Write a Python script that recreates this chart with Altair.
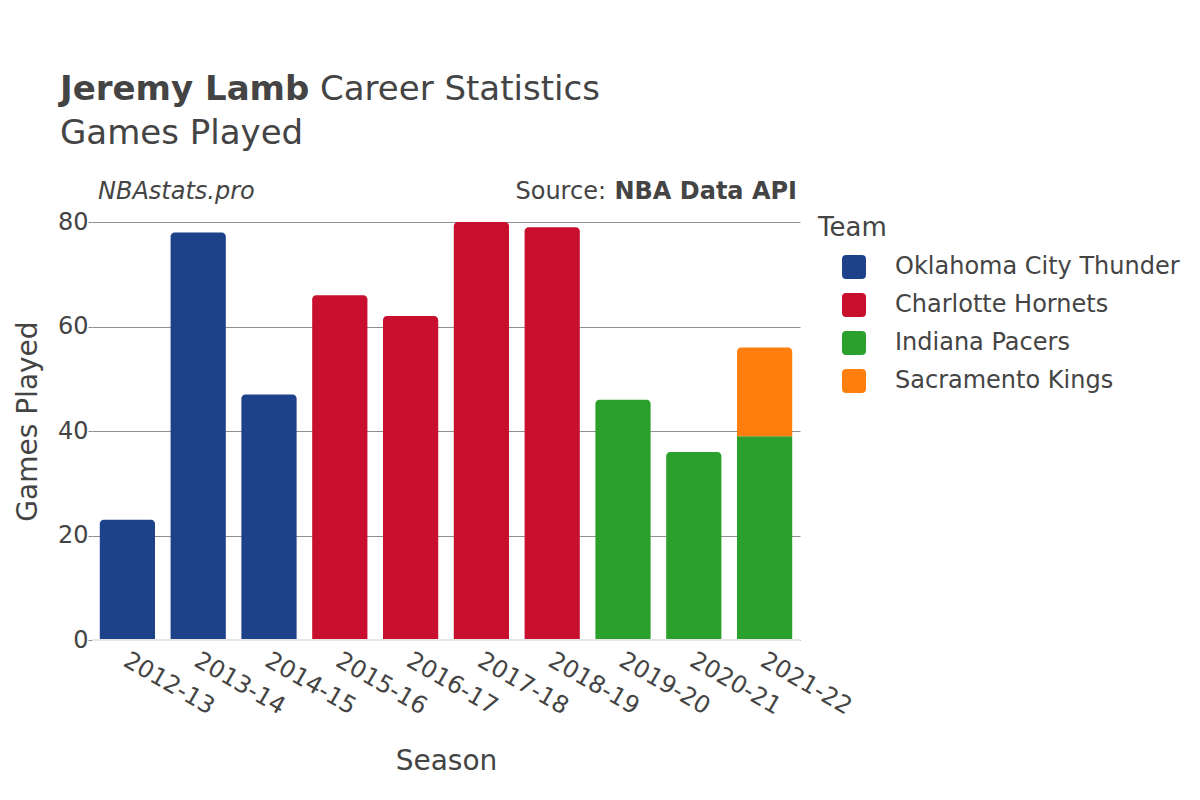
import altair as alt
import pandas as pd

seasons = ["2012-13", "2013-14", "2014-15", "2015-16", "2016-17",
           "2017-18", "2018-19", "2019-20", "2020-21", "2021-22"]
row_seasons = ["2012-13", "2013-14", "2014-15", "2015-16", "2016-17",
               "2017-18", "2018-19", "2019-20", "2020-21", "2021-22", "2021-22"]
row_teams = ["Oklahoma City Thunder", "Oklahoma City Thunder", "Oklahoma City Thunder",
             "Charlotte Hornets", "Charlotte Hornets", "Charlotte Hornets", "Charlotte Hornets",
             "Indiana Pacers", "Indiana Pacers", "Indiana Pacers", "Sacramento Kings"]
games = [23, 78, 47, 66, 62, 80, 79, 46, 36, 39, 17]

teams = ["Oklahoma City Thunder", "Charlotte Hornets", "Indiana Pacers", "Sacramento Kings"]
team_colors = ["#1D428A", "#C8102E", "#2CA02C", "#FF7F0E"]

# stacking per season
rows = []
base = {}
for s, t, g in zip(row_seasons, row_teams, games):
    y0 = base.get(s, 0)
    rows.append({"Season": s, "Team": t, "Games": g, "y0": y0, "y1": y0 + g})
    base[s] = y0 + g
df = pd.DataFrame(rows)
last_idx = df.groupby("Season")["y1"].idxmax()
df["top"] = False
df.loc[last_idx, "top"] = True

FONT = "DejaVu Sans"
TXT = "#444444"
GRID = "#8f8f8f"

x_enc = alt.X("Season:N", sort=seasons, title="Season",
              scale=alt.Scale(paddingInner=0.22, paddingOuter=0.11),
              axis=alt.Axis(labelAngle=30, labelFontSize=24, titleFontSize=28,
                            labelPadding=8, labelOffset=4, titlePadding=29,
                            ticks=False, domain=False,
                            labelColor=TXT, titleColor=TXT, titleFontWeight="normal"))
y_enc = alt.Y("y1:Q", title="Games Played",
              scale=alt.Scale(domain=[0, 80]),
              axis=alt.Axis(values=[0, 20, 40, 60, 80], labelFontSize=24, titleFontSize=28,
                            labelPadding=0, ticks=True, tickSize=4, tickColor=GRID,
                            domain=False, gridColor=GRID, gridWidth=1,
                            titleX=-50, titleY=199,
                            labelColor=TXT, titleColor=TXT, titleFontWeight="normal"))

sym_path = ("M-0.65,-1 H0.65 Q1,-1 1,-0.65 V0.65 Q1,1 0.65,1 H-0.65 "
            "Q-1,1 -1,0.65 V-0.65 Q-1,-1 -0.65,-1 Z")

color_enc = alt.Color("Team:N", scale=alt.Scale(domain=teams, range=team_colors),
                      legend=alt.Legend(title="Team", orient="none", legendX=726, legendY=-7,
                                        titleFontSize=26, titleFontWeight="normal",
                                        titleColor=TXT, labelColor=TXT, labelFontSize=24,
                                        labelLimit=0,
                                        symbolType=sym_path, symbolSize=576,
                                        symbolStrokeWidth=0, symbolOpacity=1,
                                        symbolOffset=24, labelOffset=29, rowPadding=14,
                                        titlePadding=14, padding=0))

bars_low = alt.Chart(df).transform_filter("!datum.top").mark_bar().encode(
    x=x_enc, y=y_enc, y2="y0:Q", color=color_enc)
bars_top = alt.Chart(df).transform_filter("datum.top").mark_bar(
    cornerRadiusTopLeft=4, cornerRadiusTopRight=4).encode(
    x=x_enc, y=y_enc, y2="y0:Q", color=color_enc)

one = pd.DataFrame({"a": [0]})
zero = alt.Chart(one).mark_rule(color="#e6e6e6", strokeWidth=2).encode(
    y=alt.Y(datum=0), x=alt.value(0), x2=alt.value(708))

def txt(text, x, y, size, weight="normal", style="normal", align="left"):
    return alt.Chart(one).mark_text(text=text, font=FONT, fontSize=size, fontWeight=weight,
                                    fontStyle=style, align=align, baseline="middle",
                                    color=TXT).encode(x=alt.value(x), y=alt.value(y))

t1 = txt("Jeremy Lamb", -32, -132, 34, weight="bold")
t2 = txt("Career Statistics", 228, -132, 34)
t3 = txt("Games Played", -32, -88, 34)
t4 = txt("NBAstats.pro", 6, -30, 24, style="italic")
t5 = txt("NBA Data API", 705, -30, 24, weight="bold", align="right")
t6 = txt("Source:", 514, -30, 24, align="right")

chart = alt.layer(bars_low, bars_top, zero, t1, t2, t3, t4, t5, t6).properties(
    width=708, height=418,
    padding={"left": 84, "top": 214, "right": 392, "bottom": 160},
    autosize=alt.AutoSizeParams(type="none"),
).configure(font=FONT).configure_view(stroke=None)

chart.save("out.html", embed_options={"renderer": "svg", "actions": False})
